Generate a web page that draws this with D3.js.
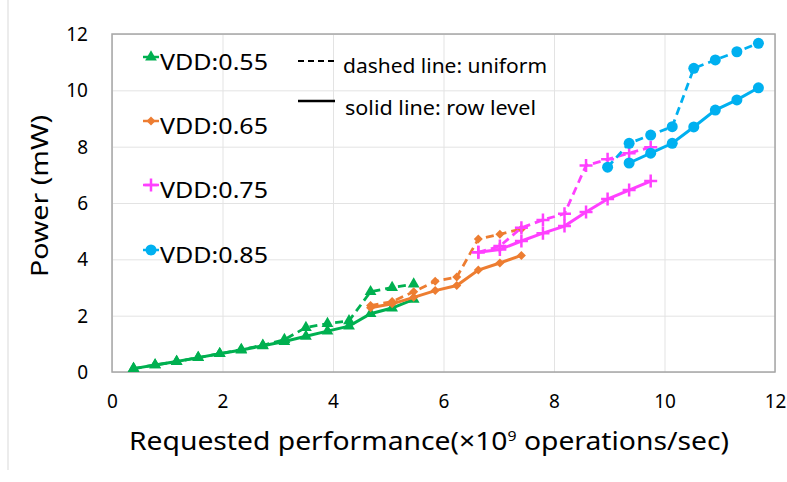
<!DOCTYPE html>
<html>
<head>
<meta charset="utf-8">
<script src="https://cdn.jsdelivr.net/npm/d3@7"></script>
<style>
  html, body { margin: 0; padding: 0; background: #fff; }
  svg { display: block; }
  text { font-family: "Noto Sans", "DejaVu Sans", sans-serif; fill: #000; }
</style>
</head>
<body>
<svg id="chart" width="787" height="482"></svg>
<script>
// Requested performance (x10^9 ops/sec) and power (mW) per supply voltage.
// "uniform" = dashed line, "row level" = solid line.
const xTicks = [0, 2, 4, 6, 8, 10, 12];
const yTicks = [0, 2, 4, 6, 8, 10, 12];

const vdd055X = [0.39, 0.78, 1.17, 1.56, 1.95, 2.34, 2.73, 3.12, 3.51, 3.90, 4.29, 4.68, 5.07, 5.46];
const vdd055Uniform = [0.12, 0.25, 0.37, 0.51, 0.65, 0.80, 0.95, 1.15, 1.58, 1.72, 1.82, 2.85, 3.00, 3.12];
const vdd055Row = [0.12, 0.25, 0.37, 0.51, 0.65, 0.78, 0.93, 1.08, 1.27, 1.45, 1.63, 2.07, 2.27, 2.58];

const vdd065X = [4.68, 5.07, 5.46, 5.85, 6.24, 6.63, 7.02, 7.41];
const vdd065Uniform = [2.36, 2.50, 2.85, 3.22, 3.37, 4.72, 4.89, 5.08];
const vdd065Row = [2.28, 2.42, 2.65, 2.89, 3.07, 3.62, 3.87, 4.14];

const vdd075X = [6.63, 7.02, 7.41, 7.80, 8.19, 8.58, 8.97, 9.36, 9.75];
const vdd075Uniform = [4.25, 4.47, 5.12, 5.40, 5.62, 7.33, 7.55, 7.77, 7.98];
const vdd075Row = [4.25, 4.35, 4.65, 4.93, 5.18, 5.68, 6.14, 6.46, 6.78];

const vdd085X = [8.97, 9.36, 9.75, 10.14, 10.53, 10.92, 11.31, 11.70];
const vdd085Uniform = [7.27, 8.12, 8.41, 8.71, 10.78, 11.08, 11.37, 11.67];
const vdd085Row = [null, 7.42, 7.77, 8.12, 8.70, 9.30, 9.66, 10.09];

const seriesNames = ["VDD:0.55", "VDD:0.65", "VDD:0.75", "VDD:0.85"];
const seriesColors = ["#00B050", "#ED7D31", "#FF40FF", "#00B0F0"];
const seriesMarkers = ["triangle", "diamond", "plus", "circle"];

const series = [
  { x: vdd055X, uniform: vdd055Uniform, row: vdd055Row },
  { x: vdd065X, uniform: vdd065Uniform, row: vdd065Row },
  { x: vdd075X, uniform: vdd075Uniform, row: vdd075Row },
  { x: vdd085X, uniform: vdd085Uniform, row: vdd085Row }
].map((s, i) => ({ ...s, name: seriesNames[i], color: seriesColors[i], marker: seriesMarkers[i] }));

const svg = d3.select("#chart");
const plot = { left: 112, right: 775, top: 34, bottom: 372 };

const x = d3.scaleLinear().domain([0, 12]).range([plot.left, plot.right]);
const y = d3.scaleLinear().domain([0, 12]).range([plot.bottom, plot.top]);

// thin frame edge at the far left
svg.append("line")
  .attr("x1", 8).attr("x2", 8).attr("y1", 0).attr("y2", 470)
  .attr("stroke", "#D9D9D9").attr("stroke-width", 1);

// gridlines
svg.append("g")
  .attr("transform", `translate(0,${plot.bottom})`)
  .call(d3.axisBottom(x).tickValues(xTicks).tickSize(-(plot.bottom - plot.top)).tickFormat(""))
  .call(g => g.select(".domain").remove())
  .call(g => g.selectAll(".tick line").attr("stroke", "#E3E3E3").attr("stroke-width", 1));

svg.append("g")
  .attr("transform", `translate(${plot.left},0)`)
  .call(d3.axisLeft(y).tickValues(yTicks).tickSize(-(plot.right - plot.left)).tickFormat(""))
  .call(g => g.select(".domain").remove())
  .call(g => g.selectAll(".tick line").attr("stroke", "#E3E3E3").attr("stroke-width", 1));

// plot frame
svg.append("rect")
  .attr("x", plot.left).attr("y", plot.top)
  .attr("width", plot.right - plot.left).attr("height", plot.bottom - plot.top)
  .attr("fill", "none").attr("stroke", "#A6A6A6").attr("stroke-width", 1.5);

// tick labels
svg.append("g")
  .attr("transform", `translate(0,${plot.bottom})`)
  .call(d3.axisBottom(x).tickValues(xTicks).tickSize(0).tickPadding(0).tickFormat(d3.format("d")))
  .call(g => g.select(".domain").remove())
  .call(g => g.selectAll("text")
    .attr("y", 36).attr("dy", 0)
    .style("font-size", "19px").style("font-family", "'Noto Sans', sans-serif").attr("fill", "#000"));

svg.append("g")
  .attr("transform", `translate(${plot.left},0)`)
  .call(d3.axisLeft(y).tickValues(yTicks).tickSize(0).tickPadding(24).tickFormat(d3.format("d")))
  .call(g => g.select(".domain").remove())
  .call(g => g.selectAll("text")
    .attr("dy", "0.35em")
    .style("font-size", "19px").style("font-family", "'Noto Sans', sans-serif").attr("fill", "#000"));

// axis titles
const xTitle = svg.append("text")
  .attr("x", 429).attr("y", 450)
  .attr("text-anchor", "middle")
  .attr("textLength", 600).attr("lengthAdjust", "spacingAndGlyphs")
  .style("font-size", "25px");
xTitle.append("tspan").text("Requested performance(×10");
xTitle.append("tspan").attr("dy", -9).style("font-size", "14px").text("9");
xTitle.append("tspan").attr("dy", 9).text(" operations/sec)");

svg.append("text")
  .attr("transform", "translate(48,196) rotate(-90)")
  .attr("text-anchor", "middle")
  .attr("textLength", 162).attr("lengthAdjust", "spacingAndGlyphs")
  .style("font-size", "24px")
  .text("Power (mW)");

// marker drawing
function drawMarker(sel, kind, color) {
  if (kind === "triangle") {
    sel.append("path").attr("d", d3.symbol(d3.symbolTriangle, 60)()).attr("fill", color);
  } else if (kind === "diamond") {
    sel.append("path").attr("d", "M0,-4.5L4.5,0L0,4.5L-4.5,0Z").attr("fill", color);
  } else if (kind === "plus") {
    sel.append("path").attr("d", "M-6.5,0H6.5M0,-6.5V6.5")
      .attr("stroke", color).attr("stroke-width", 2.5).attr("fill", "none");
  } else {
    sel.append("circle").attr("r", 5.5).attr("fill", color);
  }
}

const line = d3.line()
  .defined(d => d[1] != null)
  .x(d => x(d[0])).y(d => y(d[1]));

const marks = svg.append("g");
series.forEach(s => {
  const dashPts = s.x.map((v, i) => [v, s.uniform[i]]);
  const rowPts = s.x.map((v, i) => [v, s.row[i]]);

  marks.append("path").datum(dashPts)
    .attr("d", line).attr("fill", "none")
    .attr("stroke", s.color).attr("stroke-width", 2.75)
    .attr("stroke-dasharray", "8,5");
  marks.append("path").datum(rowPts)
    .attr("d", line).attr("fill", "none")
    .attr("stroke", s.color).attr("stroke-width", 3);

  [dashPts, rowPts].forEach(pts => {
    pts.filter(d => d[1] != null).forEach(d => {
      const g = marks.append("g").attr("transform", `translate(${x(d[0])},${y(d[1])})`);
      drawMarker(g, s.marker, s.color);
    });
  });
});

// series legend
const legend = svg.append("g");
const legendBase = [70, 134, 198, 263];
series.forEach((s, i) => {
  const g = legend.append("g").attr("transform", `translate(0,${legendBase[i]})`);
  g.append("line").attr("x1", 143).attr("x2", 159).attr("y1", -13).attr("y2", -13)
    .attr("stroke", s.color).attr("stroke-width", 2.5);
  const m = g.append("g").attr("transform", "translate(151,-13)");
  drawMarker(m, s.marker, s.color);
  g.append("text").attr("x", 160).attr("y", 0)
    .attr("textLength", 108).attr("lengthAdjust", "spacingAndGlyphs")
    .style("font-size", "21px").text(s.name);
});

// line-style legend
svg.append("line").attr("x1", 298).attr("x2", 335).attr("y1", 61).attr("y2", 61)
  .attr("stroke", "#000").attr("stroke-width", 2).attr("stroke-dasharray", "6,4");
svg.append("text").attr("x", 343).attr("y", 73)
  .attr("textLength", 204).attr("lengthAdjust", "spacingAndGlyphs")
  .style("font-size", "19px").text("dashed line: uniform");
svg.append("line").attr("x1", 298).attr("x2", 335).attr("y1", 101).attr("y2", 101)
  .attr("stroke", "#000").attr("stroke-width", 2.5);
svg.append("text").attr("x", 345).attr("y", 115)
  .attr("textLength", 191).attr("lengthAdjust", "spacingAndGlyphs")
  .style("font-size", "19px").text("solid line: row level");
</script>
</body>
</html>
